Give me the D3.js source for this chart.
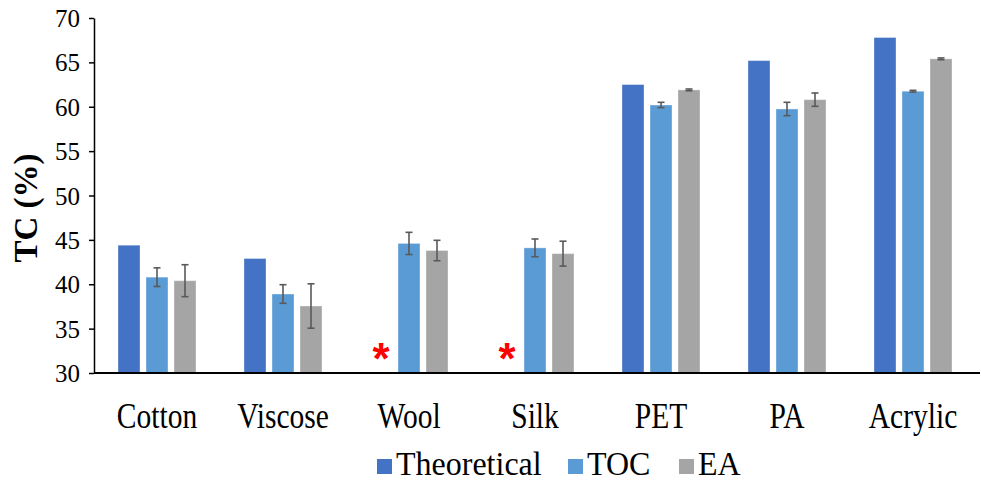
<!DOCTYPE html>
<html>
<head>
<meta charset="utf-8">
<script src="https://cdn.jsdelivr.net/npm/d3@7"></script>
<style>
  body { margin: 0; background: #fff; }
  text { font-family: "Liberation Serif", "Times New Roman", serif; fill: #000; }
</style>
</head>
<body>
<div id="chart"></div>
<script>
const categories = ['Cotton', 'Viscose', 'Wool', 'Silk', 'PET', 'PA', 'Acrylic'];
const seriesNames = ['Theoretical', 'TOC', 'EA'];
const theoretical = [44.4, 42.9, null, null, 62.5, 65.2, 67.8];
const toc = [40.8, 38.9, 44.6, 44.1, 60.2, 59.75, 61.75];
const tocErr = [1.05, 1.05, 1.25, 1.0, 0.3, 0.75, 0.1];
const ea = [40.4, 37.55, 43.8, 43.45, 61.9, 60.8, 65.4];
const eaErr = [1.8, 2.5, 1.15, 1.4, 0.1, 0.75, 0.1];
const colors = ['#4472C4', '#5B9BD5', '#A5A5A5'];
const yTicks = [30, 35, 40, 45, 50, 55, 60, 65, 70];

const serif = '"Liberation Serif", "Times New Roman", serif';

const svgWidth = 981, svgHeight = 482;
const margin = { top: 18, right: 5, bottom: 109, left: 94 };
const width = 882;
const height = svgHeight - margin.top - margin.bottom;

const svg = d3.select('#chart')
  .append('svg')
  .attr('width', svgWidth)
  .attr('height', svgHeight)
  .append('g')
  .attr('transform', `translate(${margin.left},${margin.top})`);

const x0 = d3.scaleBand().domain(categories).range([0, width]);
const x1 = d3.scaleBand().domain(seriesNames).range([0, 84]).paddingInner(6 / 28).paddingOuter(3 / 28);
const y = d3.scaleLinear().domain([30, 70]).range([height, 0]);

const rows = categories.map((c, i) => ({
  cat: c,
  vals: [
    { s: 'Theoretical', v: theoretical[i], e: null },
    { s: 'TOC', v: toc[i], e: tocErr[i] },
    { s: 'EA', v: ea[i], e: eaErr[i] }
  ]
}));

const groupOffset = (x0.bandwidth() - 84) / 2;

const groups = svg.selectAll('g.group')
  .data(rows)
  .enter()
  .append('g')
  .attr('class', 'group')
  .attr('transform', d => `translate(${x0(d.cat) + groupOffset},0)`);

groups.selectAll('rect')
  .data(d => d.vals.filter(v => v.v != null))
  .enter()
  .append('rect')
  .attr('x', d => x1(d.s))
  .attr('y', d => y(d.v))
  .attr('width', x1.bandwidth())
  .attr('height', d => height - y(d.v))
  .attr('fill', d => colors[seriesNames.indexOf(d.s)])
  .attr('stroke', '#fff')
  .attr('stroke-opacity', 0.35)
  .attr('stroke-width', 1);

// error bars
const errs = groups.selectAll('g.err')
  .data(d => d.vals.filter(v => v.e != null))
  .enter()
  .append('g')
  .attr('class', 'err')
  .attr('stroke', '#595959')
  .attr('stroke-width', 1.6);
errs.append('line')
  .attr('x1', d => x1(d.s) + x1.bandwidth() / 2)
  .attr('x2', d => x1(d.s) + x1.bandwidth() / 2)
  .attr('y1', d => y(d.v + d.e))
  .attr('y2', d => y(d.v - d.e));
errs.selectAll('line.cap')
  .data(d => [d.v + d.e, d.v - d.e].map(t => ({ s: d.s, t })))
  .enter()
  .append('line')
  .attr('class', 'cap')
  .attr('x1', d => x1(d.s) + x1.bandwidth() / 2 - 3.5)
  .attr('x2', d => x1(d.s) + x1.bandwidth() / 2 + 3.5)
  .attr('y1', d => y(d.t))
  .attr('y2', d => y(d.t));

// asterisks where theoretical value is missing
groups.filter(d => d.vals[0].v == null)
  .append('text')
  .attr('x', x1('Theoretical') + x1.bandwidth() / 2)
  .attr('y', height + 1)
  .attr('text-anchor', 'middle')
  .style('font-family', '"Liberation Sans", Arial, sans-serif')
  .style('font-weight', 'bold')
  .style('font-size', '44px')
  .style('fill', '#FF0000')
  .text('*');

// y axis
const yAxis = svg.append('g')
  .call(d3.axisLeft(y).tickValues(yTicks).tickSize(5).tickSizeOuter(0).tickPadding(9));
yAxis.attr('font-family', null);
yAxis.select('.domain').attr('stroke', '#000').attr('stroke-width', 1.5);
yAxis.selectAll('.tick line').attr('stroke', '#000').attr('stroke-width', 1.5);
yAxis.selectAll('.tick text')
  .style('font-family', serif)
  .style('font-size', '25px')
  .attr('dy', '0.34em')
  .attr('fill', '#000');

// x axis line
svg.append('line')
  .attr('x1', 0)
  .attr('x2', svgWidth - margin.left - 1)
  .attr('y1', height)
  .attr('y2', height)
  .attr('stroke', '#000')
  .attr('stroke-width', 2);

// category labels
svg.selectAll('text.cat')
  .data(categories)
  .enter()
  .append('text')
  .attr('class', 'cat')
  .attr('transform', d => `translate(${x0(d) + x0.bandwidth() / 2},${height + 55}) scale(0.82,1)`)
  .attr('text-anchor', 'middle')
  .style('font-family', serif)
  .style('font-size', '36px')
  .text(d => d);

// y title
svg.append('text')
  .attr('transform', 'rotate(-90)')
  .attr('x', -(190))
  .attr('y', -57)
  .attr('text-anchor', 'middle')
  .style('font-family', serif)
  .style('font-size', '33px')
  .style('font-weight', 'bold')
  .text('TC (%)');

// legend
const legendX = [377, 568, 679];
const legend = svg.selectAll('g.legend-row')
  .data(seriesNames)
  .enter()
  .append('g')
  .attr('class', 'legend-row')
  .attr('transform', (d, i) => `translate(${legendX[i] - margin.left},${459 - margin.top})`);
legend.append('rect')
  .attr('width', 15)
  .attr('height', 15)
  .attr('fill', (d, i) => colors[i]);
legend.append('text')
  .attr('transform', 'translate(19,16) scale(0.97,1)')
  .style('font-family', serif)
  .style('font-size', '33px')
  .text(d => d);
</script>
</body>
</html>
